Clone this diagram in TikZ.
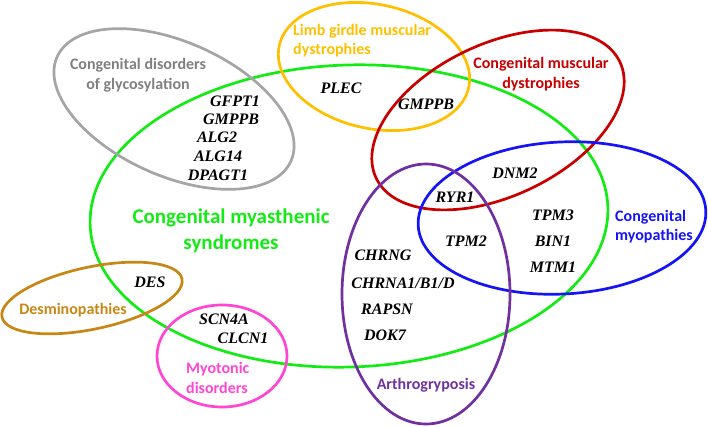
\documentclass[tikz,border=0pt]{standalone}
\usepackage{fontspec}
\setmainfont{Liberation Serif}
\newfontfamily\setfont{Carlito}
\usetikzlibrary{shapes.geometric}

\definecolor{cmsgreen}{RGB}{20,235,20}
\definecolor{cdggray}{RGB}{165,165,165}
\definecolor{cdgtext}{RGB}{128,128,128}
\definecolor{lgmdgold}{RGB}{255,192,0}
\definecolor{cmdred}{RGB}{200,0,0}
\definecolor{cmblue}{RGB}{20,20,245}
\definecolor{arthpurple}{RGB}{112,48,160}
\definecolor{desbrown}{RGB}{200,135,20}
\definecolor{myopink}{RGB}{255,70,210}

\def\lw{2.7pt}
\newcommand{\venn}[7]{
    \node[ellipse, draw=#2, line width=\lw, inner sep=0pt,
          minimum width=2*#5, minimum height=2*#6, rotate=#7] (#1) at (#3,#4) {};
}
\newcommand{\gene}[4]{
    \node[gene] (#1) at (#2,#3) {#4};
}

\begin{document}
\begin{tikzpicture}[x=1pt, y=-1pt,
    gene/.style={font=\fontsize{16}{18}\selectfont\bfseries\itshape, inner sep=0pt},
    setlabel/.style={font=\setfont\fontsize{16}{19.5}\selectfont\bfseries, inner sep=0pt, align=center}]
    \useasboundingbox (0,0) rectangle (708,427);
    % the sets
    \venn{cms}{cmsgreen}{349}{216}{259}{151}{2}
    \venn{cdg}{cdggray}{174}{109}{128}{67}{-24}
    \venn{lgmd}{lgmdgold}{374}{66.5}{97}{62}{-12.5}
    \venn{cmd}{cmdred}{498}{120}{135}{76}{25.5}
    \venn{cm}{cmblue}{562}{218}{144}{76}{3}
    \venn{arth}{arthpurple}{426}{294}{84}{130}{0}
    \venn{des}{desbrown}{92}{298}{92}{31}{12}
    \venn{myo}{myopink}{222}{356}{65}{51}{0}
    % set names
    \node[setlabel, text=cdgtext] (cdg-name) at (138,75) {Congenital disorders\\of glycosylation};
    \node[setlabel, text=lgmdgold, align=left, anchor=west] (lgmd-name) at (293,40.5) {Limb girdle muscular\\dystrophies};
    \node[setlabel, text=cmdred] (cmd-name) at (541,74) {Congenital muscular\\dystrophies};
    \node[setlabel, text=cmblue, align=left, anchor=west] (cm-name) at (615,226.5) {Congenital\\myopathies};
    \node[setlabel, text=arthpurple] (arth-name) at (426,385) {Arthrogryposis};
    \node[setlabel, text=desbrown] (des-name) at (73,310) {Desminopathies};
    \node[setlabel, text=myopink, align=left, anchor=west] (myo-name) at (186,378) {Myotonic\\disorders};
    \node[setlabel, text=cmsgreen, font=\setfont\fontsize{21}{26}\selectfont\bfseries] (cms-name) at (231,231) {Congenital myasthenic\\syndromes};
    % genes
    \gene{gfpt1}{235}{101}{GFPT1}
    \gene{gmppb-a}{231}{119}{GMPPB}
    \gene{alg2}{217}{137}{ALG2}
    \gene{alg14}{218}{156}{ALG14}
    \gene{dpagt1}{218}{175}{DPAGT1}
    \gene{plec}{341}{88}{PLEC}
    \gene{gmppb-b}{426}{104}{GMPPB}
    \gene{dnm2}{515}{173}{DNM2}
    \gene{ryr1}{455}{197}{RYR1}
    \gene{tpm3}{553}{215}{TPM3}
    \gene{bin1}{553}{241}{BIN1}
    \gene{mtm1}{553}{267}{MTM1}
    \gene{tpm2}{466}{241}{TPM2}
    \gene{chrng}{383}{255}{CHRNG}
    \gene{chrna}{403}{283}{CHRNA1/B1/D}
    \gene{rapsn}{387}{309}{RAPSN}
    \gene{dok7}{385}{335}{DOK7}
    \gene{des}{150}{282}{DES}
    \gene{scn4a}{224}{319}{SCN4A}
    \gene{clcn1}{243}{338}{CLCN1}
\end{tikzpicture}
\end{document}
